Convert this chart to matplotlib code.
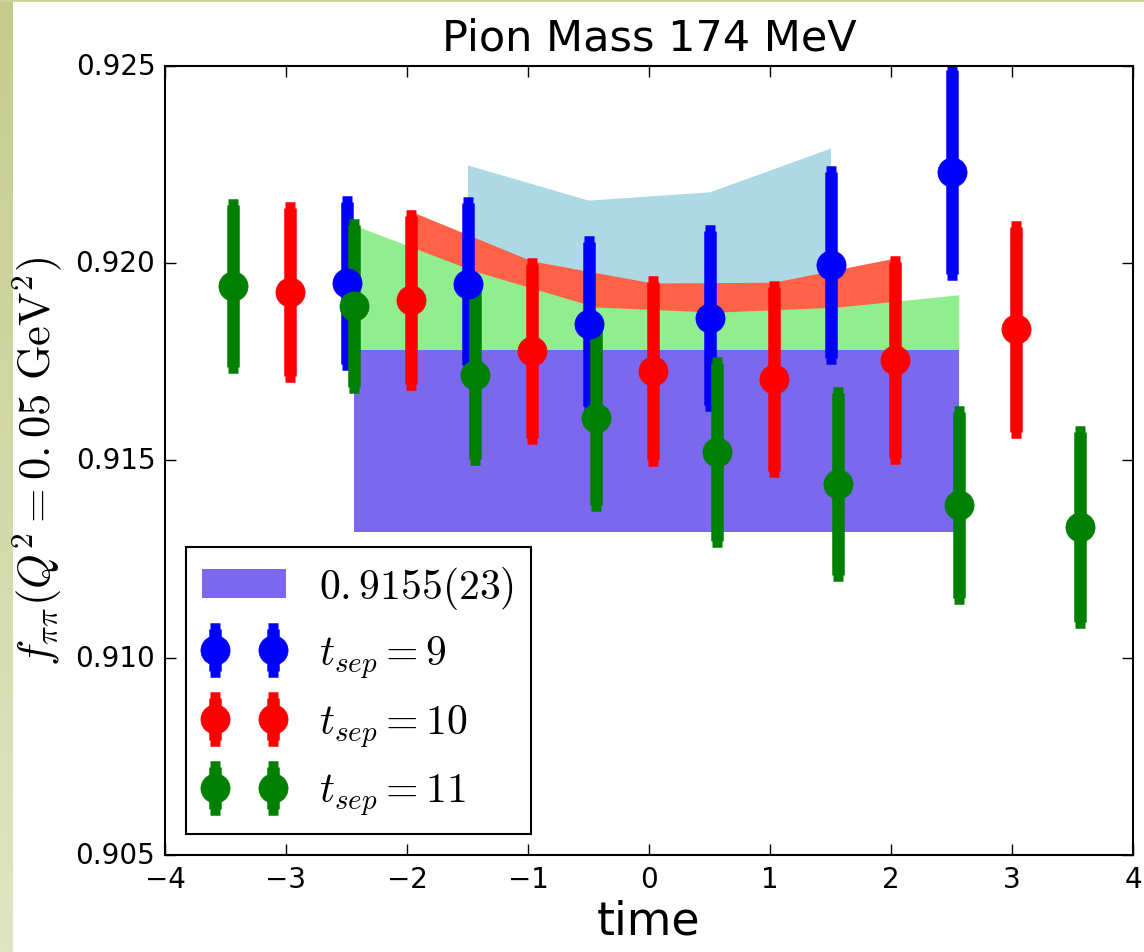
import matplotlib
matplotlib.use('Agg')
import matplotlib.pyplot as plt
import numpy as np
from matplotlib.patches import Rectangle
from matplotlib.ticker import FormatStrFormatter, MultipleLocator

plt.style.use('classic')

# t_sep = 9
t9 = [-2.5, -1.5, -0.5, 0.5, 1.5, 2.5]
f9 = [0.91950, 0.91947, 0.91846, 0.91861, 0.91996, 0.92231]
e9 = [0.00205, 0.00205, 0.00208, 0.00221, 0.00236, 0.00259]

# t_sep = 10
t10 = [-2.97, -1.97, -0.97, 0.03, 1.03, 2.03, 3.03]
f10 = [0.91927, 0.91907, 0.91778, 0.91727, 0.91707, 0.91755, 0.91833]
e10 = [0.00213, 0.00213, 0.00221, 0.00226, 0.00233, 0.00249, 0.00260]

# t_sep = 11
t11 = [-3.44, -2.44, -1.44, -0.44, 0.56, 1.56, 2.56, 3.56]
f11 = [0.91942, 0.91892, 0.91717, 0.91608, 0.91522, 0.91441, 0.91387, 0.91331]
e11 = [0.00206, 0.00206, 0.00213, 0.00221, 0.00226, 0.00231, 0.00235, 0.00241]

# bands per t_sep
band9_t = [-1.5, -0.5, 0.5, 1.5]
band9_hi = [0.92249, 0.92160, 0.92181, 0.92292]
band9_lo = [0.9190, 0.9184, 0.9184, 0.9190]

band10_t = [-1.97, -0.97, 0.03, 1.03, 2.03]
band10_hi = [0.92132, 0.92006, 0.91950, 0.91952, 0.92013]
band10_lo = [0.9187, 0.9175, 0.9169, 0.9169, 0.9175]

band11_t = [-2.44, -1.44, -0.44, 0.56, 1.56, 2.56]
band11_hi = [0.92097, 0.91980, 0.91889, 0.91876, 0.91889, 0.91920]
band11_lo = [0.9172, 0.9165, 0.9160, 0.9159, 0.9160, 0.9163]

# fit result
fit_t = [-2.44, 2.56]
fit_val = 0.9155
fit_err = 0.0023

fig = plt.figure(figsize=(11.44, 9.53), dpi=100, facecolor='white')

# slide border left over from the screenshot
bax = fig.add_axes([0, 0, 13/1144., 1])
grad = np.linspace(0, 1, 256).reshape(-1, 1, 1)
top_c = np.array([196, 205, 140]) / 255.
bot_c = np.array([224, 229, 196]) / 255.
bax.imshow(top_c + (bot_c - top_c) * grad, aspect='auto')
bax.axis('off')
fig.patches.append(Rectangle((0, 1 - 3/953.), 1, 3/953., transform=fig.transFigure,
                             facecolor='#cdd49a', edgecolor='none'))

ax = fig.add_axes([165/1144., 1 - 856/953., 968/1144., 789/953.])

ax.fill_between(band9_t, band9_lo, band9_hi, color='lightblue', linewidth=0)
ax.fill_between(band10_t, band10_lo, band10_hi, color='tomato', linewidth=0)
ax.fill_between(band11_t, band11_lo, band11_hi, color='lightgreen', linewidth=0)
ax.fill_between(fit_t, fit_val - fit_err, fit_val + fit_err, color='mediumslateblue',
                linewidth=0, label=r'$0.{}9155(23)$')

kw = dict(fmt='o', ms=21, elinewidth=9, capsize=3.8, capthick=9)
ax.errorbar(t9, f9, yerr=e9, color='blue', mec='blue', label=r'$t_{sep}=9$', **kw)
ax.errorbar(t10, f10, yerr=e10, color='red', mec='red', label=r'$t_{sep}=10$', **kw)
ax.errorbar(t11, f11, yerr=e11, color='green', mec='green', label=r'$t_{sep}=11$', **kw)

ax.set_xlim(-4, 4)
ax.set_ylim(0.905, 0.925)
ax.yaxis.set_major_locator(MultipleLocator(0.005))
ax.yaxis.set_major_formatter(FormatStrFormatter('%.3f'))
ax.xaxis.set_major_locator(MultipleLocator(1))
ax.tick_params(labelsize=20, length=8, width=1, pad=7)
for s in ax.spines.values():
    s.set_linewidth(1.5)

ax.set_title('Pion Mass 174 MeV', fontsize=31, y=1.012)
ax.set_xlabel('time', fontsize=33, labelpad=4)
ax.set_ylabel(r'$f_{\pi\pi}(Q^2=0.{}05\ \mathrm{GeV}^2)$', fontsize=32, labelpad=8)

leg = ax.legend(loc='lower left', fontsize=30, numpoints=2)
leg.get_frame().set_linewidth(1.5)

fig.savefig('out.png', dpi=100, facecolor='white')
